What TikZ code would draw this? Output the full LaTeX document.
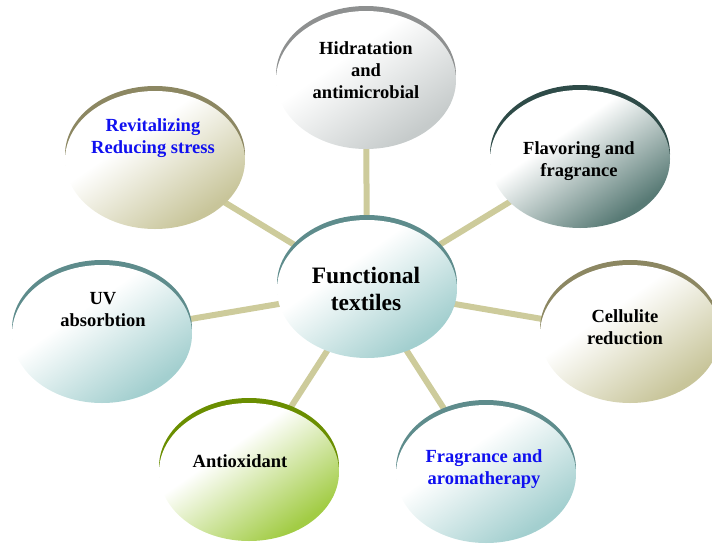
\documentclass[tikz,border=0pt]{standalone}
\usepackage{fontspec}
\setmainfont{Liberation Serif}
\usetikzlibrary{shapes.geometric,backgrounds}
\definecolor{linkcol}{HTML}{CDCB9B}
\definecolor{tealrim}{HTML}{5E8C8C}
\definecolor{tealfill}{HTML}{A3CFCF}
\definecolor{olivrim}{HTML}{8C8762}
\definecolor{olivfill}{HTML}{C8C59A}
\definecolor{grayrim}{HTML}{8E9090}
\definecolor{grayfill}{HTML}{C6CBCB}
\definecolor{slaterim}{HTML}{2E4B48}
\definecolor{slatefill}{HTML}{587A75}
\definecolor{greenrim}{HTML}{6A8E00}
\definecolor{greenfill}{HTML}{A2CC45}
\definecolor{textblue}{HTML}{1010F0}
\colorlet{bubblecol}{tealfill}
\pgfdeclarehorizontalshading[bubblecol]{bubbleshade}{100bp}{color(0bp)=(white); color(40bp)=(white); color(73bp)=(bubblecol); color(100bp)=(bubblecol)}
\newcommand\bubbleat[4]{%
  \colorlet{bubblecol}{#4}%
  \node[bubble, fill=#3, yshift=5pt] (#1rim) at (#2) {};
  \node[bubble, shade, shading=bubbleshade, shading angle=-55] (#1) at (#2) {};
}
\begin{document}
\begin{tikzpicture}[x=1pt,y=-1pt,
  bubble/.style={ellipse, minimum width=180pt, minimum height=138pt, inner sep=0pt, draw=none},
  lbl/.style={font=\fontsize{18.5}{22}\selectfont\bfseries, align=center, text=black},
  blbl/.style={lbl, text=textblue},
  biglbl/.style={font=\fontsize{23.5}{27.5}\selectfont\bfseries, align=center, text=black},
  link/.style={draw=linkcol, line width=6pt}]
\useasboundingbox (0,0) rectangle (712,544);

\bubbleat{hid}{366,80}{grayrim}{grayfill}
\bubbleat{rev}{155,160}{olivrim}{olivfill}
\bubbleat{fla}{580,159}{slaterim}{slatefill}
\bubbleat{uv}{102,334}{tealrim}{tealfill}
\bubbleat{cel}{630,334}{olivrim}{olivfill}
\bubbleat{ant}{249,472}{greenrim}{greenfill}
\bubbleat{fra}{486,474}{tealrim}{tealfill}
\bubbleat{cen}{367,289}{tealrim}{tealfill}

\begin{pgfonlayer}{background}
  \draw[link] (cen.center) -- (hid.center);
  \draw[link] (cen.center) -- (rev.center);
  \draw[link] (cen.center) -- (fla.center);
  \draw[link] (cen.center) -- (uv.center);
  \draw[link] (cen.center) -- (cel.center);
  \draw[link] (cen.center) -- (ant.center);
  \draw[link] (cen.center) -- (fra.center);
\end{pgfonlayer}

\node[lbl]  (thid) at (366,70)  {Hidratation\\and\\antimicrobial};
\node[blbl] (trev) at (153,138) {Revitalizing\\Reducing stress};
\node[lbl]  (tfla) at (579,161) {Flavoring and\\fragrance};
\node[biglbl] (tcen) at (366,289) {Functional\\textiles};
\node[lbl]  (tuv)  at (103,310) {UV\\absorbtion};
\node[lbl]  (tcel) at (625,327) {Cellulite\\reduction};
\node[lbl]  (tant) at (240,461) {Antioxidant};
\node[blbl] (tfra) at (484,469) {Fragrance and\\aromatherapy};
\end{tikzpicture}
\end{document}
